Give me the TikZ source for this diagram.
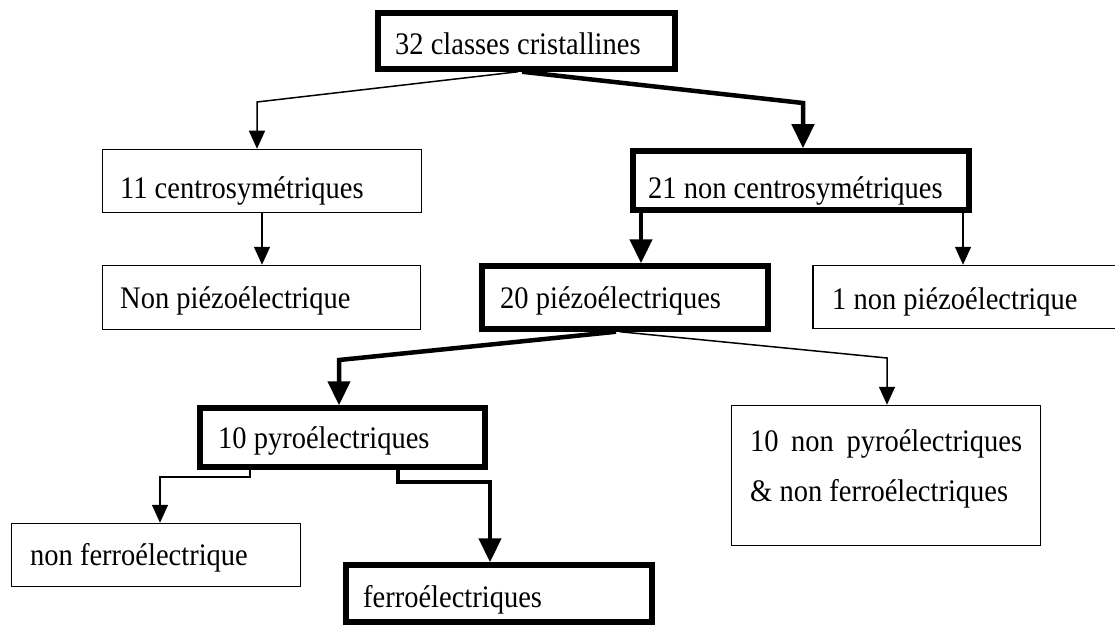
\documentclass[tikz,border=0pt]{standalone}
\usepackage{fontspec}
\setmainfont{Liberation Serif}
\usetikzlibrary{arrows.meta}
\newcommand{\vs}[1]{\scalebox{1}[1.1]{#1}}
\tikzset{
  boxthin/.style={draw=black, line width=1.5pt, rectangle, inner sep=0pt},
  boxthick/.style={draw=black, line width=5.5pt, rectangle, inner sep=0pt},
  lbl/.style={anchor=base west, inner sep=0pt, font=\fontsize{28.5}{34}\selectfont},
  conthin/.style={draw=black, line width=1.5pt, -{Triangle[width=16pt,length=18pt]}},
  conthick/.style={draw=black, line width=4.5pt, miter limit=4, -{Triangle[width=22pt,length=24pt]}},
}
\begin{document}
\begin{tikzpicture}[x=1pt, y=-1pt]
\useasboundingbox (0,0) rectangle (1115,628);
\begin{scope}
\clip (0,0) rectangle (1115,628);
% boxes
\node[boxthick, minimum width=297pt, minimum height=56pt] (b1) at (526.5,41) {};
\node[boxthin,  minimum width=319pt, minimum height=63pt] (b2) at (262,181) {};
\node[boxthick, minimum width=336pt, minimum height=59pt] (b3) at (801,180.5) {};
\node[boxthin,  minimum width=318pt, minimum height=64pt] (b4) at (261.5,297.5) {};
\node[boxthick, minimum width=286pt, minimum height=63pt] (b5) at (625,297.5) {};
\node[boxthin,  minimum width=312pt, minimum height=63pt] (b6) at (969,297) {};
\node[boxthick, minimum width=285pt, minimum height=59pt] (b7) at (342.5,437.5) {};
\node[boxthin,  minimum width=309pt, minimum height=140pt] (b8) at (886,475.5) {};
\node[boxthin,  minimum width=289pt, minimum height=63pt] (b9) at (156,555) {};
\node[boxthick, minimum width=306pt, minimum height=57pt] (b10) at (499,593.5) {};
% labels
\node[lbl] (t1) at (395,55) {\vs{32 classes cristallines}};
\node[lbl] (t2) at (120,199) {\vs{11 centrosymétriques}};
\node[lbl] (t3) at (648,199) {\vs{21 non centrosymétriques}};
\node[lbl] (t4) at (120,308) {\vs{Non piézoélectrique}};
\node[lbl] (t5) at (500,308) {\vs{20 piézoélectriques}};
\node[lbl] (t6) at (832,309) {\vs{1 non piézoélectrique}};
\node[lbl] (t7) at (218,448) {\vs{10 pyroélectriques}};
\node[lbl] (t8a) at (750,451) {\vs{\makebox[272pt][s]{10 non pyroélectriques}}};
\node[lbl] (t8b) at (750,501) {\vs{\& non ferroélectriques}};
\node[lbl] (t9) at (30,565) {\vs{non ferroélectrique}};
\node[lbl] (t10) at (363,607) {\vs{ferroélectriques}};
% connectors
\draw[conthin] (518,0 |- b1.south) -- (257,102) -- (257,0 |- b2.north);
\draw[conthick] (522,0 |- b1.south) -- (803,103) -- (803,0 |- b3.north);
\draw[conthin] (262,0 |- b2.south) -- (262,0 |- b4.north);
\draw[conthick] (641,0 |- b3.south) -- (641,0 |- b5.north);
\draw[conthin] (963,0 |- b3.south) -- (963,0 |- b6.north);
\draw[conthick] (616,0 |- b5.south) -- (339,360) -- (339,0 |- b7.north);
\draw[conthin] (620,0 |- b5.south) -- (887,358) -- (887,0 |- b8.north);
\draw[conthin] (250,0 |- b7.south) -- (250,477) -- (160,477) -- (160,0 |- b9.north);
\draw[conthick] (398,0 |- b7.south) -- (398,482) -- (490,482) -- (490,0 |- b10.north);
\end{scope}
\end{tikzpicture}
\end{document}
